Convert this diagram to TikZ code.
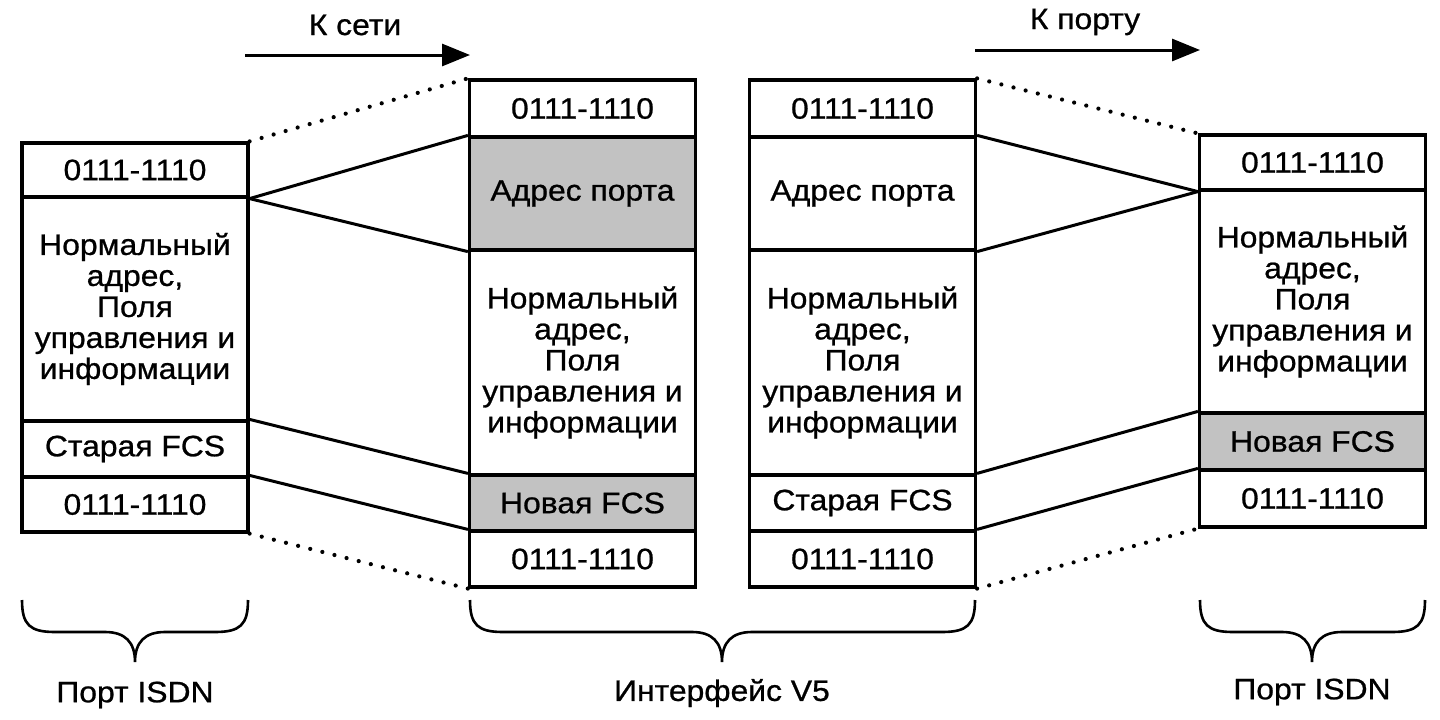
\documentclass[tikz,border=0pt]{standalone}
\usepackage{fontspec}
\setmainfont{Liberation Sans}[FakeStretch=1.08, FakeBold=0.8]
\usetikzlibrary{arrows.meta}
\begin{document}
\begin{tikzpicture}[x=1pt,y=-1pt,
  cell/.style={draw, line width=3.2pt, inner sep=0pt, align=center,
    font=\fontsize{29.5}{31}\selectfont},
  c1/.style={cell, minimum width=226pt},
  shade/.style={fill=black!24},
  link/.style={line width=3pt},
  dots/.style={line width=4.2pt, line cap=round, dash pattern=on 0pt off 12.5pt},
  dir/.style={line width=3pt, -{Triangle[length=28pt,width=22pt]}},
  brace/.style={line width=2.6pt},
  lbl/.style={font=\fontsize{29.5}{31}\selectfont, inner sep=0pt}]
\useasboundingbox (0,0) rectangle (1440,720);
% column 1
\node[c1, minimum height=54pt] (c1a) at (135,170) {0111-1110};
\node[c1, minimum height=224pt] (c1b) at (135,309) {Нормальный\\адрес,\\Поля\\управления и\\информации};
\node[c1, minimum height=56pt] (c1c) at (135,449) {Старая FCS};
\node[c1, minimum height=55pt] (c1d) at (135,504.5) {0111-1110};
% column 2
\node[c1, minimum height=57pt] (c2a) at (582.5,108.5) {0111-1110};
\node[c1, shade, minimum height=113pt] (c2b) at (582.5,193.5) {Адрес порта};
\node[c1, minimum height=225pt] (c2c) at (582.5,362.5) {Нормальный\\адрес,\\Поля\\управления и\\информации};
\node[c1, shade, minimum height=56pt] (c2d) at (582.5,503) {Новая FCS};
\node[c1, minimum height=56pt] (c2e) at (582.5,559) {0111-1110};
% column 3
\node[c1, minimum height=57pt] (c3a) at (862.5,108.5) {0111-1110};
\node[c1, minimum height=113pt] (c3b) at (862.5,193.5) {Адрес порта};
\node[c1, minimum height=225pt] (c3c) at (862.5,362.5) {Нормальный\\адрес,\\Поля\\управления и\\информации};
\node[c1, minimum height=56pt] (c3d) at (862.5,503) {Старая FCS};
\node[c1, minimum height=56pt] (c3e) at (862.5,559) {0111-1110};
% column 4
\node[c1, minimum height=55pt] (c4a) at (1312.5,162.5) {0111-1110};
\node[c1, minimum height=223pt] (c4b) at (1312.5,301.5) {Нормальный\\адрес,\\Поля\\управления и\\информации};
\node[c1, shade, minimum height=57pt] (c4c) at (1312.5,441.5) {Новая FCS};
\node[c1, minimum height=57pt] (c4d) at (1312.5,498.5) {0111-1110};
% connectors 1-2
\draw[dots] (c1a.north east) -- (c2a.north west);
\draw[link] (c1a.south east) -- (c2b.north west);
\draw[link] (c1a.south east) -- (c2b.south west);
\draw[link] (c1c.north east) -- (c2d.north west);
\draw[link] (c1d.north east) -- (c2e.north west);
\draw[dots] (c1d.south east) -- (c2e.south west);
% connectors 3-4
\draw[dots] (c3a.north east) -- (c4a.north west);
\draw[link] (c3b.north east) -- (c4a.south west);
\draw[link] (c3b.south east) -- (c4a.south west);
\draw[link] (c3d.north east) -- (c4c.north west);
\draw[link] (c3e.north east) -- (c4d.north west);
\draw[dots] (c3e.south east) -- (c4d.south west);
% direction arrows
\node[lbl] (t1) at (355,25) {К сети};
\coordinate (a1s) at (245,55);
\coordinate (a1e) at (470,55);
\draw[dir] (a1s) -- (a1e);
\node[lbl] (t2) at (1085,22) {К порту};
\coordinate (a2s) at (975,50);
\coordinate (a2e) at (1200,50);
\draw[dir] (a2s) -- (a2e);
% braces
\draw[brace] (22,600) .. controls (22,625) and (30,632) .. (55,632) -- (105,632)
  .. controls (125,632) and (135,642) .. (135,662)
  .. controls (135,642) and (145,632) .. (165,632) -- (215,632)
  .. controls (240,632) and (248,625) .. (248,600);
\draw[brace] (470,600) .. controls (470,625) and (478,632) .. (503,632) -- (692,632)
  .. controls (712,632) and (722,642) .. (722,662)
  .. controls (722,642) and (732,632) .. (752,632) -- (942,632)
  .. controls (967,632) and (975,625) .. (975,600);
\draw[brace] (1200,600) .. controls (1200,625) and (1208,632) .. (1233,632) -- (1282,632)
  .. controls (1302,632) and (1312,642) .. (1312,662)
  .. controls (1312,642) and (1322,632) .. (1342,632) -- (1392,632)
  .. controls (1417,632) and (1425,625) .. (1425,600);
\node[lbl] (b1) at (135,695) {Порт ISDN};
\node[lbl] (b2) at (722,693) {Интерфейс V5};
\node[lbl] (b3) at (1312,692) {Порт ISDN};
\end{tikzpicture}
\end{document}
